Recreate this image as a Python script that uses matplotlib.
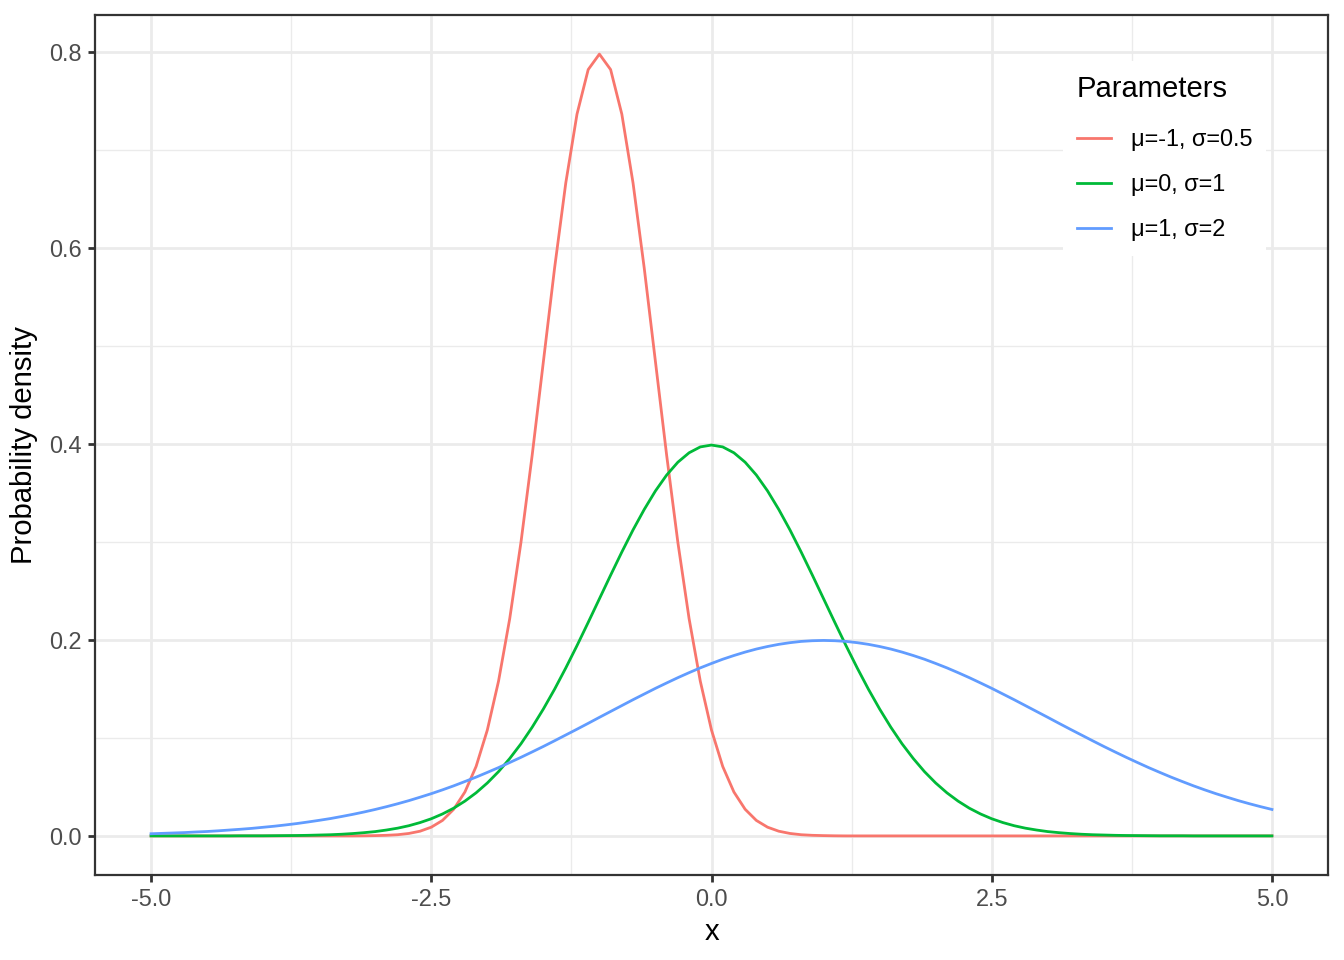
import matplotlib
matplotlib.use('Agg')
import matplotlib.pyplot as plt

plt.rcParams['font.family'] = ['Liberation Sans', 'DejaVu Sans']

# x grid (step 0.1) and densities
x = [-5.0, -4.9, -4.8, -4.7, -4.6, -4.5, -4.4, -4.3, -4.2, -4.1,
     -4.0, -3.9, -3.8, -3.7, -3.6, -3.5, -3.4, -3.3, -3.2, -3.1,
     -3.0, -2.9, -2.8, -2.7, -2.6, -2.5, -2.4, -2.3, -2.2, -2.1,
     -2.0, -1.9, -1.8, -1.7, -1.6, -1.5, -1.4, -1.3, -1.2, -1.1,
     -1.0, -0.9, -0.8, -0.7, -0.6, -0.5, -0.4, -0.3, -0.2, -0.1,
     0.0, 0.1, 0.2, 0.3, 0.4, 0.5, 0.6, 0.7, 0.8, 0.9,
     1.0, 1.1, 1.2, 1.3, 1.4, 1.5, 1.6, 1.7, 1.8, 1.9,
     2.0, 2.1, 2.2, 2.3, 2.4, 2.5, 2.6, 2.7, 2.8, 2.9,
     3.0, 3.1, 3.2, 3.3, 3.4, 3.5, 3.6, 3.7, 3.8, 3.9,
     4.0, 4.1, 4.2, 4.3, 4.4, 4.5, 4.6, 4.7, 4.8, 4.9,
     5.0]

red = [0, 0, 0, 0, 0, 0, 0, 0, 0, 0,
       0, 0, 0, 0, 0, 0, 0, 0, 0, 0.0001,
       0.0003, 0.0006, 0.0012, 0.0025, 0.0048, 0.0089, 0.0158, 0.0272, 0.0448, 0.0709,
       0.1080, 0.1579, 0.2218, 0.2995, 0.3884, 0.4839, 0.5794, 0.6664, 0.7366, 0.7821,
       0.7979, 0.7821, 0.7366, 0.6664, 0.5794, 0.4839, 0.3884, 0.2995, 0.2218, 0.1579,
       0.1080, 0.0709, 0.0448, 0.0272, 0.0158, 0.0089, 0.0048, 0.0025, 0.0012, 0.0006,
       0.0003, 0.0001, 0, 0, 0, 0, 0, 0, 0, 0,
       0, 0, 0, 0, 0, 0, 0, 0, 0, 0,
       0, 0, 0, 0, 0, 0, 0, 0, 0, 0,
       0, 0, 0, 0, 0, 0, 0, 0, 0, 0,
       0]

green = [0, 0, 0, 0, 0, 0, 0, 0, 0.0001, 0.0001,
         0.0001, 0.0002, 0.0003, 0.0004, 0.0006, 0.0009, 0.0012, 0.0017, 0.0024, 0.0033,
         0.0044, 0.0060, 0.0079, 0.0104, 0.0136, 0.0175, 0.0224, 0.0283, 0.0355, 0.0440,
         0.0540, 0.0656, 0.0790, 0.0940, 0.1109, 0.1295, 0.1497, 0.1714, 0.1942, 0.2179,
         0.2420, 0.2661, 0.2897, 0.3123, 0.3332, 0.3521, 0.3683, 0.3814, 0.3910, 0.3970,
         0.3989, 0.3970, 0.3910, 0.3814, 0.3683, 0.3521, 0.3332, 0.3123, 0.2897, 0.2661,
         0.2420, 0.2179, 0.1942, 0.1714, 0.1497, 0.1295, 0.1109, 0.0940, 0.0790, 0.0656,
         0.0540, 0.0440, 0.0355, 0.0283, 0.0224, 0.0175, 0.0136, 0.0104, 0.0079, 0.0060,
         0.0044, 0.0033, 0.0024, 0.0017, 0.0012, 0.0009, 0.0006, 0.0004, 0.0003, 0.0002,
         0.0001, 0.0001, 0.0001, 0, 0, 0, 0, 0, 0, 0,
         0]

blue = [0.0022, 0.0026, 0.0030, 0.0034, 0.0040, 0.0045, 0.0052, 0.0060, 0.0068, 0.0077,
        0.0088, 0.0099, 0.0112, 0.0126, 0.0142, 0.0159, 0.0177, 0.0198, 0.0220, 0.0244,
        0.0270, 0.0298, 0.0328, 0.0360, 0.0395, 0.0431, 0.0470, 0.0511, 0.0555, 0.0600,
        0.0648, 0.0697, 0.0749, 0.0802, 0.0857, 0.0913, 0.0971, 0.1030, 0.1089, 0.1149,
        0.1210, 0.1270, 0.1330, 0.1390, 0.1448, 0.1506, 0.1561, 0.1615, 0.1666, 0.1715,
        0.1760, 0.1803, 0.1841, 0.1876, 0.1907, 0.1933, 0.1955, 0.1972, 0.1985, 0.1992,
        0.1995, 0.1992, 0.1985, 0.1972, 0.1955, 0.1933, 0.1907, 0.1876, 0.1841, 0.1803,
        0.1760, 0.1715, 0.1666, 0.1615, 0.1561, 0.1506, 0.1448, 0.1390, 0.1330, 0.1270,
        0.1210, 0.1149, 0.1089, 0.1030, 0.0971, 0.0913, 0.0857, 0.0802, 0.0749, 0.0697,
        0.0648, 0.0600, 0.0555, 0.0511, 0.0470, 0.0431, 0.0395, 0.0360, 0.0328, 0.0298,
        0.0270]

labels = ['μ=-1, σ=0.5', 'μ=0, σ=1', 'μ=1, σ=2']
colors = ['#F8766D', '#00BA38', '#619CFF']
x_ticks = [-5.0, -2.5, 0.0, 2.5, 5.0]
y_ticks = [0.0, 0.2, 0.4, 0.6, 0.8]

fig = plt.figure(figsize=(13.44, 9.6), dpi=100)
ax = fig.add_axes([95 / 1344, 1 - 875 / 960, (1328 - 95) / 1344, (875 - 15) / 960])

for ys, lab, col in zip([red, green, blue], labels, colors):
    ax.plot(x, ys, color=col, lw=2.0, label=lab)

ax.set_xlim(-5.5, 5.5)
ax.set_ylim(-0.0399, 0.8378)
ax.set_xticks(x_ticks)
ax.set_xticklabels(['%.1f' % t for t in x_ticks])
ax.set_yticks(y_ticks)
ax.set_yticklabels(['%.1f' % t for t in y_ticks])
ax.set_xticks([-3.75, -1.25, 1.25, 3.75], minor=True)
ax.set_yticks([0.1, 0.3, 0.5, 0.7], minor=True)
ax.grid(which='major', color='#EBEBEB', lw=2.0)
ax.grid(which='minor', color='#EBEBEB', lw=1.0)
ax.set_axisbelow(True)
ax.tick_params(which='major', length=5.3, width=2.0, color='#333333',
               labelcolor='#4D4D4D', labelsize=16.9, pad=4.2)
ax.tick_params(which='minor', length=0)
for s in ax.spines.values():
    s.set_color('#333333')
    s.set_linewidth(1.6)

ax.set_xlabel('x', fontsize=21.1, labelpad=5)
ax.set_ylabel('Probability density', fontsize=21.1, labelpad=8)

leg = ax.legend(title='Parameters', loc='upper right',
                bbox_to_anchor=(1278 / 1344, 1 - 49 / 960),
                bbox_transform=fig.transFigure,
                fontsize=16.9, title_fontsize=21.1, frameon=True,
                fancybox=False, edgecolor='none', facecolor='white',
                framealpha=1, handlelength=1.45, handletextpad=0.85,
                labelspacing=0.95, borderpad=0.6, alignment='left')
leg._legend_box.sep = 18

fig.savefig('out.png', dpi=100)
